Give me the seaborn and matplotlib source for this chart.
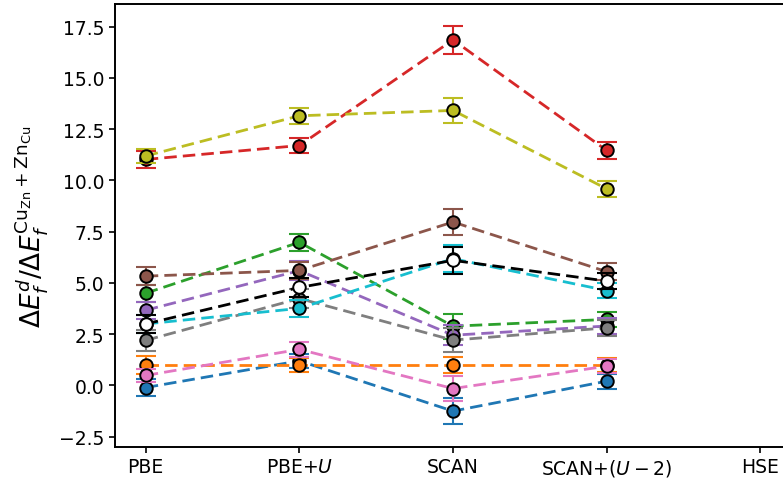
import numpy as np
import pandas as pd
import matplotlib
matplotlib.use("Agg")
import matplotlib.pyplot as plt
import seaborn as sns

# Functionals on the x axis (HSE has no values yet)
methods = ["PBE", "PBE+$U$", "SCAN", "SCAN+$(U-2)$", "HSE"]

# Relative formation energies, one list per defect complex, with uncertainties
blue_vals = [-0.10, 1.20, -1.25, 0.21, np.nan]
blue_err = [0.42, 0.35, 0.65, 0.37, np.nan]
orange_vals = [1.00, 1.00, 1.00, 1.00, np.nan]
orange_err = [0.42, 0.35, 0.40, 0.35, np.nan]
green_vals = [4.50, 6.98, 2.89, 3.22, np.nan]
green_err = [0.42, 0.40, 0.60, 0.36, np.nan]
red_vals = [11.02, 11.70, 16.85, 11.46, np.nan]
red_err = [0.42, 0.37, 0.70, 0.40, np.nan]
purple_vals = [3.67, 5.60, 2.45, 2.90, np.nan]
purple_err = [0.42, 0.45, 0.50, 0.40, np.nan]
brown_vals = [5.33, 5.61, 7.97, 5.55, np.nan]
brown_err = [0.45, 0.40, 0.65, 0.40, np.nan]
pink_vals = [0.49, 1.76, -0.15, 0.94, np.nan]
pink_err = [0.30, 0.35, 0.62, 0.35, np.nan]
gray_vals = [2.20, 4.24, 2.21, 2.81, np.nan]
gray_err = [0.50, 0.45, 0.60, 0.40, np.nan]
olive_vals = [11.19, 13.15, 13.41, 9.59, np.nan]
olive_err = [0.35, 0.40, 0.62, 0.38, np.nan]
cyan_vals = [3.00, 3.76, 6.18, 4.63, np.nan]
cyan_err = [0.45, 0.43, 0.65, 0.35, np.nan]
black_vals = [3.00, 4.78, 6.10, 5.09, np.nan]
black_err = [0.46, 0.45, 0.65, 0.40, np.nan]

series = [
    ("tab:blue", "tab:blue", blue_vals, blue_err),
    ("tab:orange", "tab:orange", orange_vals, orange_err),
    ("tab:green", "tab:green", green_vals, green_err),
    ("tab:red", "tab:red", red_vals, red_err),
    ("tab:purple", "tab:purple", purple_vals, purple_err),
    ("tab:brown", "tab:brown", brown_vals, brown_err),
    ("tab:pink", "tab:pink", pink_vals, pink_err),
    ("tab:gray", "tab:gray", gray_vals, gray_err),
    ("tab:olive", "tab:olive", olive_vals, olive_err),
    ("tab:cyan", "tab:cyan", cyan_vals, cyan_err),
    ("black", "white", black_vals, black_err),
]

sns.set_style("ticks")
plt.rcParams["font.family"] = ["DejaVu Sans"]
plt.rcParams["mathtext.fontset"] = "dejavusans"

fig = plt.figure(figsize=(7.83, 4.85), dpi=100)
ax = fig.add_axes([0.1469, 0.0763, 0.8633, 0.9134])

xpos = np.arange(len(methods))
for i, (lc, fc, vals, errs) in enumerate(series):
    df = pd.DataFrame({"x": xpos, "y": vals})
    ax.errorbar(df["x"], df["y"], yerr=errs, fmt="none", ecolor=lc,
                elinewidth=1.5, capsize=7, capthick=1.5, zorder=2 + i * 0.1)
    sns.lineplot(data=df, x="x", y="y", ax=ax, color=lc,
                 linewidth=2, dashes=(4.5, 2.2), marker="o", markersize=9,
                 markerfacecolor=fc, markeredgecolor="black",
                 markeredgewidth=1.4, zorder=2.05 + i * 0.1)

ax.set_xticks(xpos)
ax.set_xticklabels(methods, fontsize=13.5, color="black")
ax.set_xlim(-0.2, 4.2)
ax.set_ylim(-3.0, 18.6)
ax.set_yticks([-2.5, 0, 2.5, 5, 7.5, 10, 12.5, 15, 17.5])
ax.tick_params(axis="y", labelsize=13.5, labelcolor="black")
ax.tick_params(axis="both", color="black", width=1.2, length=4)
ax.set_xlabel("")
ax.set_ylabel(r"$\Delta E_f^d/\Delta E_f^{\mathrm{Cu_{Zn}+Zn_{Cu}}}$",
              fontsize=19, color="black", labelpad=6)
for s in ax.spines.values():
    s.set_linewidth(1.4)
    s.set_color("black")

fig.savefig("out.png", dpi=100)
